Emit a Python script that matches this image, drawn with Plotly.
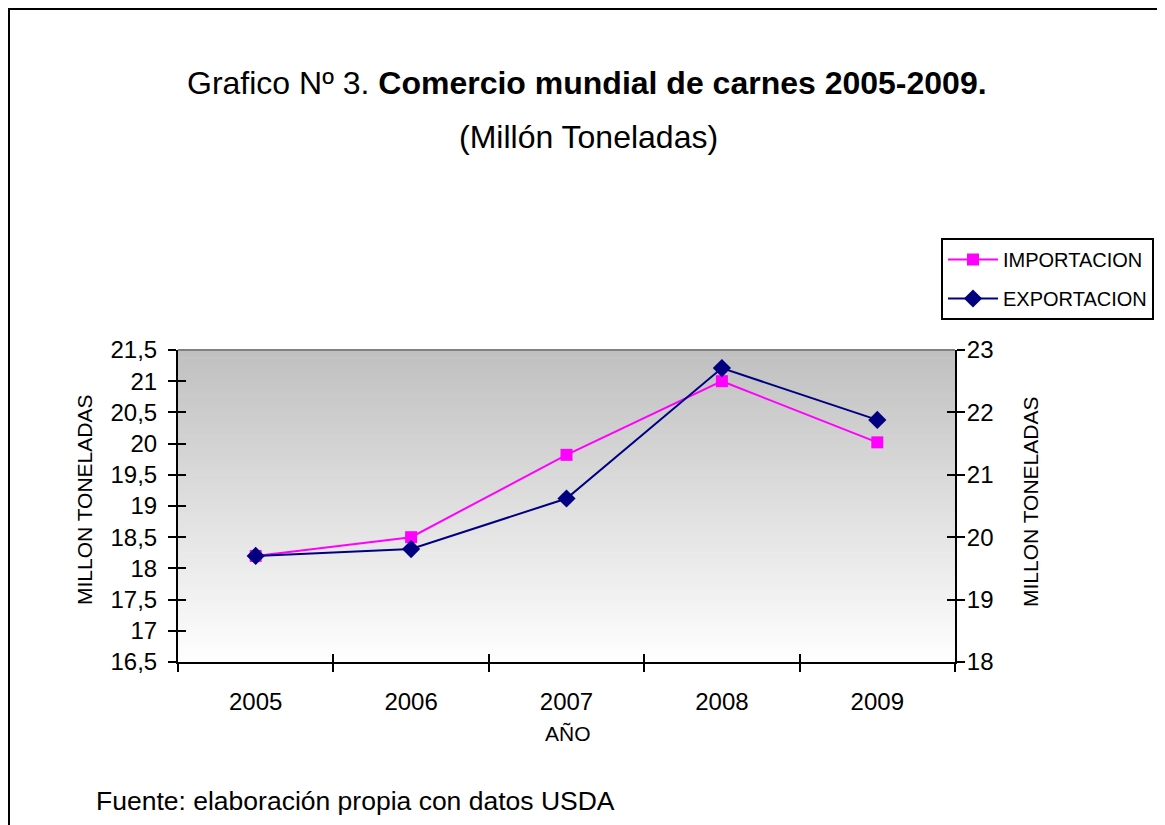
import plotly.graph_objects as go

# Data
years = ["2005", "2006", "2007", "2008", "2009"]
importacion = [18.2, 18.5, 19.82, 21.0, 20.02]   # left axis
exportacion = [19.7, 19.81, 20.62, 22.71, 21.88]  # right axis

left_range = [16.5, 21.5]
right_range = [18, 23]

FONT = "Arial, Liberation Sans, sans-serif"
W, H = 1165, 825
OFF = 8  # the page body adds an 8px margin
L, R, T, B = 178 - OFF, 218, 350 - OFF, 171
PH = H - T - B
PW = W - L - R


def px_x(px):
    return (px - OFF - L) / PW


def px_y(py):
    return (H - B + OFF - py) / PH


fig = go.Figure()

fig.add_trace(go.Scatter(
    x=years, y=importacion, name="IMPORTACION", legendgroup="imp",
    mode="lines+markers",
    line=dict(color="#ff00ff", width=2),
    marker=dict(symbol="square", size=12, color="#ff00ff"),
    xaxis="x", yaxis="y",
))
fig.add_trace(go.Scatter(
    x=years, y=exportacion, name="EXPORTACION", legendgroup="exp",
    mode="lines+markers",
    line=dict(color="#000080", width=2),
    marker=dict(symbol="diamond", size=14, color="#000080"),
    xaxis="x", yaxis="y2",
))

# invisible helpers so the overlay axes (inner half of crossing ticks) get drawn
fig.add_trace(go.Scatter(x=years, y=importacion, xaxis="x2", yaxis="y3",
                         mode="markers", marker=dict(opacity=0),
                         showlegend=False, hoverinfo="skip"))
fig.add_trace(go.Scatter(x=years, y=exportacion, xaxis="x2", yaxis="y4",
                         mode="markers", marker=dict(opacity=0),
                         showlegend=False, hoverinfo="skip"))

# gradient background of the plot area
shapes = []
n = 80
for i in range(n):
    t = i / (n - 1)
    c = int(round(254 - (254 - 192) * t))
    shapes.append(dict(type="rect", xref="paper", yref="paper",
                       x0=0, x1=1, y0=i / n, y1=(i + 1) / n + 0.002,
                       fillcolor=f"rgb({c},{c},{c})", line=dict(width=0),
                       layer="below"))
# gray top border of plot area
shapes.append(dict(type="line", xref="paper", yref="paper", x0=0, x1=1, y0=1, y1=1,
                   line=dict(color="#808080", width=2)))
# outer frame (runs off the right and bottom of the picture)
shapes.append(dict(type="rect", xref="paper", yref="paper",
                   x0=px_x(9), x1=px_x(1200), y0=px_y(860), y1=px_y(9),
                   line=dict(color="black", width=2)))

tick_common = dict(ticks="outside", ticklen=8, tickwidth=1.5, tickcolor="black",
                   showgrid=False, zeroline=False)

fig.update_layout(
    width=W, height=H, autosize=False,
    margin=dict(l=L, r=R, t=T, b=B),
    paper_bgcolor="white", plot_bgcolor="rgba(0,0,0,0)",
    separators=",.",
    font=dict(family=FONT, color="black"),
    showlegend=True,
    legend=dict(x=px_x(941), y=px_y(238), xanchor="left", yanchor="top",
                bordercolor="black", borderwidth=2, bgcolor="white",
                font=dict(size=20), tracegroupgap=10, traceorder="grouped",
                itemwidth=50),
    shapes=shapes,
    xaxis=dict(type="category", categoryorder="array", categoryarray=years,
               range=[-0.5, 4.5], tickson="boundaries", showline=True,
               linecolor="black", linewidth=2, tickfont=dict(size=24),
               ticklabelstandoff=17, anchor="y", **tick_common),
    xaxis2=dict(type="category", categoryorder="array", categoryarray=years,
                range=[-0.5, 4.5], tickson="boundaries", overlaying="x",
                side="bottom", anchor="y", ticks="inside", ticklen=8,
                tickwidth=1.5, tickcolor="black", showticklabels=False,
                showgrid=False, zeroline=False, showline=False),
    yaxis=dict(range=left_range, tick0=16.5, dtick=0.5, showline=True,
               linecolor="black", linewidth=2, tickfont=dict(size=24),
               ticklabelstandoff=6, anchor="x", **tick_common),
    yaxis2=dict(range=right_range, tick0=18, dtick=1, overlaying="y",
                side="right", anchor="x", showline=True, linecolor="black",
                linewidth=2, tickfont=dict(size=24), ticklabelstandoff=-3,
                **tick_common),
    yaxis3=dict(range=left_range, tick0=16.5, dtick=0.5, overlaying="y",
                side="left", anchor="x", ticks="inside", ticklen=8,
                tickwidth=1.5, tickcolor="black", showticklabels=False,
                showgrid=False, zeroline=False, showline=False),
    yaxis4=dict(range=right_range, tick0=18, dtick=1, overlaying="y",
                side="right", anchor="x", ticks="inside", ticklen=8,
                tickwidth=1.5, tickcolor="black", showticklabels=False,
                showgrid=False, zeroline=False, showline=False),
)

annotations = [
    dict(text="Grafico Nº 3. <b>Comercio mundial de carnes 2005-2009.</b>",
         x=px_x(587), y=px_y(83), font=dict(size=32)),
    dict(text="(Millón Toneladas)", x=px_x(588), y=px_y(137), font=dict(size=32)),
    dict(text="MILLON TONELADAS", x=px_x(84), y=px_y(500), textangle=-90,
         font=dict(size=21)),
    dict(text="MILLON TONELADAS", x=px_x(1030), y=px_y(502), textangle=-90,
         font=dict(size=21)),
    dict(text="AÑO", x=px_x(568), y=px_y(733), font=dict(size=21)),
    dict(text="Fuente: elaboración propia con datos USDA", x=px_x(94),
         y=px_y(801), xanchor="left", font=dict(size=26.5)),
]
for a in annotations:
    a.setdefault("xanchor", "center")
    fig.add_annotation(xref="paper", yref="paper", yanchor="middle",
                       showarrow=False, **a)

fig.write_html("out.html")
